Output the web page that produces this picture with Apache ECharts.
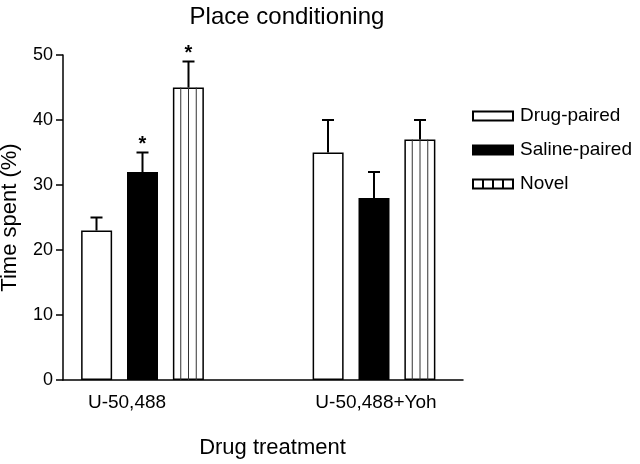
<!DOCTYPE html>
<html>
<head>
<meta charset="utf-8">
<script src="https://cdn.jsdelivr.net/npm/echarts@6/dist/echarts.min.js"></script>
<style>
    html, body { margin: 0; padding: 0; background: #fff; }
    #chart { width: 640px; height: 464px; }
</style>
</head>
<body>
<div id="chart"></div>
<script>
// data
var categories = ['U-50,488', 'U-50,488+Yoh'];
var seriesNames = ['Drug-paired', 'Saline-paired', 'Novel'];
var drugPaired = [23, 35];
var drugPairedErr = [2, 5];
var salinePaired = [32, 28];
var salinePairedErr = [3, 4];
var novel = [45, 37];
var novelErr = [4, 3];
var drugSig = ['', ''];
var salineSig = ['*', ''];
var novelSig = ['*', ''];

var FONT = '"Liberation Sans", Arial, sans-serif';
var BAR_W = 31;
var BAR_STEP = 46; // distance between bar centres inside one group

var chart = echarts.init(document.getElementById('chart'));

// rows for the error bars: [category, series, mean, err, sig]
var means = [drugPaired, salinePaired, novel];
var errs = [drugPairedErr, salinePairedErr, novelErr];
var sigs = [drugSig, salineSig, novelSig];
var errRows = [];
for (var k = 0; k < 3; k++) {
    for (var i = 0; i < categories.length; i++) {
        errRows.push([i, k, means[k][i], errs[k][i], sigs[k][i]]);
    }
}

function renderErr(params, api) {
    var cat = api.value(0);
    var k = api.value(1);
    var mean = api.value(2);
    var err = api.value(3);
    var sig = errRows[params.dataIndex][4];
    var top = api.coord([cat, mean]);
    var cap = api.coord([cat, mean + err]);
    var base = api.coord([cat, 0]);
    var x = top[0] + (k - 1) * BAR_STEP;
    var stroke = { stroke: '#000', lineWidth: 2 };
    var children = [
        { type: 'line', shape: { x1: x, y1: top[1], x2: x, y2: cap[1] }, style: stroke },
        { type: 'line', shape: { x1: x - 6, y1: cap[1], x2: x + 6, y2: cap[1] }, style: stroke }
    ];
    // vertical stripes inside the Novel bar
    if (k === 2) {
        for (var s = -1; s <= 1; s++) {
            var sx = x + s * BAR_W / 4;
            children.push({
                type: 'line',
                shape: { x1: sx, y1: base[1], x2: sx, y2: top[1] },
                style: { stroke: '#333', lineWidth: 1 }
            });
        }
    }
    if (sig) {
        children.push({
            type: 'text',
            style: {
                text: sig, x: x, y: cap[1] + 2,
                align: 'center', verticalAlign: 'bottom',
                font: 'bold 20px ' + FONT, fill: '#000'
            }
        });
    }
    return { type: 'group', children: children };
}

function barSeries(name, data, color) {
    return {
        name: name,
        type: 'bar',
        xAxisIndex: 1,
        yAxisIndex: 1,
        barWidth: BAR_W,
        barGap: '48%',
        data: data,
        itemStyle: { color: color, borderColor: '#000', borderWidth: 1.5 }
    };
}

var catData = categories.map(function (c, i) {
    // first label sits a little left of its group centre in the figure
    return { value: c, textStyle: { padding: i === 0 ? [0, 31, 0, 0] : [0, 0, 0, 4] } };
});

var option = {
    animation: false,
    textStyle: { fontFamily: FONT, color: '#000' },
    title: {
        text: 'Place conditioning',
        left: 282,
        top: 0,
        textAlign: 'center',
        textStyle: { fontFamily: FONT, fontSize: 24, fontWeight: 'normal', color: '#000' }
    },
    legend: {
        orient: 'vertical',
        left: 467,
        top: 101,
        itemWidth: 40,
        itemHeight: 9,
        itemGap: 14,
        textStyle: { fontFamily: FONT, fontSize: 19, color: '#000', lineHeight: 20, padding: [0, 0, 0, 2] },
        data: [
            { name: seriesNames[0], icon: 'rect' },
            { name: seriesNames[1], icon: 'rect' },
            { name: seriesNames[2], icon: 'path://M0,0H40V9H0Z M10,0V9 M20,0V9 M30,0V9' }
        ]
    },
    grid: [
        { left: 63, right: 177, top: 55, bottom: 84, outerBoundsMode: 'none' },
        { left: 26.75, right: 150.25, top: 55, bottom: 84, outerBoundsMode: 'none' }
    ],
    xAxis: [{
        type: 'value',
        gridIndex: 0,
        min: 0,
        max: 1,
        name: 'Drug treatment',
        nameLocation: 'middle',
        nameGap: 57,
        nameTextStyle: { fontFamily: FONT, fontSize: 22, color: '#000', padding: [0, 0, 0, 19] },
        axisLine: { show: true, lineStyle: { color: '#000', width: 1.5 } },
        axisTick: { show: false },
        axisLabel: { show: false },
        splitLine: { show: false }
    }, {
        type: 'category',
        gridIndex: 1,
        data: catData,
        axisLine: { show: false },
        axisTick: { show: false },
        axisLabel: { margin: 13, fontFamily: FONT, fontSize: 19, color: '#000' },
        splitLine: { show: false }
    }],
    yAxis: [{
        type: 'value',
        gridIndex: 0,
        min: 0,
        max: 50,
        interval: 10,
        name: 'Time spent (%)',
        nameLocation: 'middle',
        nameGap: 42,
        nameTextStyle: { fontFamily: FONT, fontSize: 22, color: '#000' },
        axisLine: { show: true, lineStyle: { color: '#000', width: 1.5 } },
        axisTick: { show: true, length: 7, lineStyle: { color: '#000', width: 1.5 } },
        axisLabel: { margin: 10, fontFamily: FONT, fontSize: 18, color: '#000' },
        splitLine: { show: false }
    }, {
        type: 'value',
        gridIndex: 1,
        min: 0,
        max: 50,
        show: false
    }],
    series: [
        barSeries(seriesNames[0], drugPaired, '#fff'),
        barSeries(seriesNames[1], salinePaired, '#000'),
        barSeries(seriesNames[2], novel, '#fff'),
        {
            type: 'custom',
            xAxisIndex: 1,
            yAxisIndex: 1,
            clip: false,
            z: 5,
            renderItem: renderErr,
            data: errRows.map(function (r) { return [r[0], r[1], r[2], r[3]]; })
        }
    ]
};

chart.setOption(option);
</script>
</body>
</html>
